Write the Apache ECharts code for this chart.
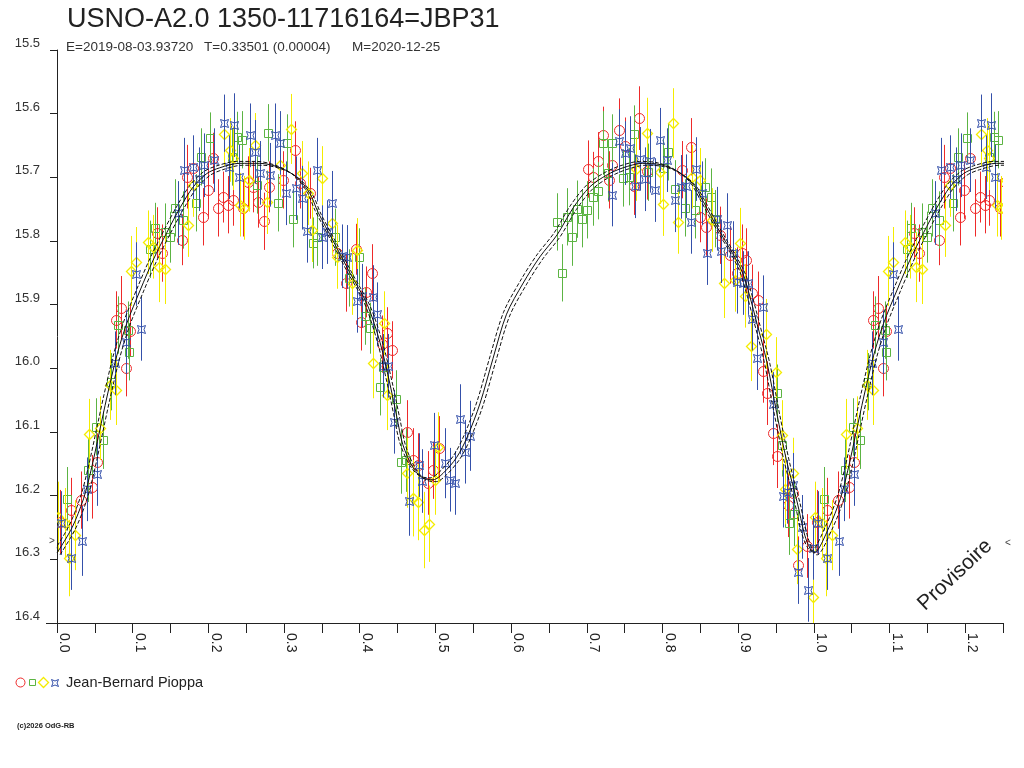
<!DOCTYPE html>
<html>
<head>
<meta charset="utf-8">
<title>JBP31</title>
<script src="https://cdn.jsdelivr.net/npm/echarts/dist/echarts.min.js"></script>
<style>
  html, body { margin: 0; padding: 0; background: #fff; }
  #main { width: 1024px; height: 768px; }
</style>
</head>
<body>
<div id="main"></div>
<script>
// phase, magnitude, error  (one array per observer symbol)
var redObs = [
  [0.004,16.241,0.05],[0.018,16.222,0.05],[0.032,16.207,0.045],[0.046,16.186,0.05],[0.053,16.147,0.045],
  [0.078,15.924,0.045],[0.085,15.905,0.05],[0.091,15.999,0.045],[0.096,15.941,0.04],[0.132,15.787,0.04],
  [0.139,15.819,0.045],[0.165,15.798,0.04],[0.172,15.699,0.05],[0.180,15.685,0.045],[0.193,15.762,0.045],
  [0.199,15.720,0.045],[0.206,15.670,0.04],[0.213,15.748,0.045],[0.219,15.731,0.04],[0.226,15.743,0.045],
  [0.232,15.736,0.04],[0.246,15.748,0.045],[0.252,15.707,0.04],[0.259,15.715,0.04],[0.266,15.739,0.04],
  [0.273,15.769,0.045],[0.280,15.715,0.04],[0.299,15.704,0.045],[0.314,15.657,0.045],[0.321,15.709,0.04],
  [0.334,15.725,0.04],[0.370,15.819,0.04],[0.382,15.866,0.045],[0.395,15.813,0.04],[0.402,15.927,0.045],
  [0.408,15.880,0.04],[0.416,15.850,0.045],[0.429,15.962,0.045],[0.436,15.944,0.04],[0.443,15.971,0.045],
  [0.462,16.100,0.05],[0.470,16.144,0.05],[0.477,16.152,0.05],[0.490,16.180,0.05],[0.497,16.160,0.045],
  [0.505,16.125,0.05],[0.701,15.687,0.045],[0.708,15.700,0.04],[0.715,15.674,0.045],[0.721,15.634,0.045],
  [0.729,15.704,0.045],[0.734,15.681,0.045],[0.742,15.626,0.05],[0.750,15.651,0.045],[0.762,15.714,0.045],
  [0.769,15.607,0.05],[0.779,15.690,0.045],[0.826,15.688,0.045],[0.838,15.652,0.045],[0.849,15.762,0.04],
  [0.857,15.778,0.045],[0.876,15.791,0.045],[0.889,15.822,0.045],[0.898,15.850,0.04],[0.905,15.819,0.045],
  [0.911,15.830,0.05],[0.918,15.882,0.045],[0.926,15.893,0.045],[0.933,16.004,0.05],[0.938,16.039,0.05],
  [0.946,16.102,0.05],[0.951,16.138,0.05],[0.966,16.215,0.05],[0.972,16.196,0.05],[0.979,16.309,0.045],
  [0.991,16.279,0.05]
];
var greenObs = [
  [0.013,16.205,0.05],[0.041,16.160,0.05],[0.052,16.092,0.045],[0.061,16.113,0.045],[0.071,16.021,0.045],
  [0.081,15.932,0.045],[0.094,15.940,0.045],[0.095,15.974,0.045],[0.123,15.813,0.045],[0.129,15.780,0.04],
  [0.143,15.786,0.045],[0.149,15.794,0.04],[0.156,15.748,0.045],[0.166,15.767,0.045],[0.184,15.740,0.045],
  [0.190,15.668,0.045],[0.202,15.638,0.04],[0.231,15.668,0.045],[0.238,15.637,0.04],[0.244,15.641,0.045],
  [0.264,15.712,0.045],[0.279,15.630,0.045],[0.292,15.740,0.045],[0.304,15.646,0.045],[0.312,15.765,0.045],
  [0.338,15.803,0.04],[0.343,15.794,0.045],[0.367,15.794,0.045],[0.386,15.858,0.045],[0.399,15.825,0.045],
  [0.407,15.918,0.045],[0.413,15.937,0.04],[0.427,16.029,0.045],[0.431,15.998,0.045],[0.448,16.048,0.045],
  [0.454,16.147,0.05],[0.461,16.144,0.05],[0.661,15.770,0.045],[0.667,15.850,0.045],[0.674,15.762,0.045],
  [0.680,15.794,0.045],[0.687,15.750,0.045],[0.694,15.765,0.045],[0.700,15.751,0.045],[0.708,15.731,0.045],
  [0.715,15.721,0.045],[0.721,15.646,0.05],[0.728,15.693,0.045],[0.734,15.646,0.045],[0.748,15.701,0.045],
  [0.756,15.699,0.045],[0.762,15.632,0.045],[0.781,15.692,0.045],[0.801,15.685,0.045],[0.808,15.660,0.045],
  [0.816,15.718,0.045],[0.830,15.748,0.045],[0.843,15.751,0.045],[0.856,15.715,0.045],[0.864,15.731,0.045],
  [0.869,15.765,0.045],[0.951,16.039,0.045],[0.958,16.120,0.05],[0.967,16.243,0.05],[0.974,16.229,0.05]
];
var yellowObs = [
  [0.001,16.233,0.055],[0.011,16.243,0.055],[0.016,16.298,0.06],[0.024,16.262,0.055],[0.042,16.103,0.055],
  [0.057,16.094,0.05],[0.070,16.026,0.055],[0.078,16.034,0.055],[0.098,15.847,0.055],[0.104,15.833,0.055],
  [0.120,15.802,0.05],[0.127,15.809,0.05],[0.135,15.841,0.055],[0.143,15.844,0.055],[0.173,15.775,0.05],
  [0.180,15.712,0.05],[0.221,15.632,0.05],[0.229,15.657,0.05],[0.232,15.670,0.05],[0.242,15.743,0.05],
  [0.247,15.748,0.05],[0.254,15.704,0.05],[0.262,15.649,0.05],[0.277,15.739,0.05],[0.295,15.681,0.05],
  [0.309,15.624,0.055],[0.324,15.693,0.05],[0.332,15.725,0.05],[0.337,15.783,0.05],[0.350,15.701,0.05],
  [0.363,15.772,0.05],[0.370,15.825,0.05],[0.390,15.866,0.05],[0.396,15.814,0.05],[0.417,15.992,0.055],
  [0.432,15.929,0.05],[0.436,16.042,0.055],[0.462,16.164,0.055],[0.470,16.204,0.06],[0.477,16.210,0.06],
  [0.485,16.254,0.06],[0.491,16.244,0.06],[0.499,16.175,0.055],[0.503,16.124,0.055],[0.765,15.687,0.05],
  [0.779,15.630,0.055],[0.797,15.692,0.05],[0.801,15.742,0.05],[0.814,15.615,0.055],[0.820,15.770,0.05],
  [0.839,15.699,0.05],[0.849,15.704,0.05],[0.865,15.767,0.05],[0.881,15.866,0.055],[0.896,15.861,0.05],
  [0.902,15.803,0.055],[0.909,15.886,0.05],[0.917,15.965,0.055],[0.937,15.946,0.055],[0.950,16.006,0.055],
  [0.958,16.105,0.055],[0.962,16.190,0.055],[0.972,16.164,0.055],[0.978,16.284,0.055],[0.999,16.359,0.06]
];
var blueObs = [
  [0.005,16.243,0.05],[0.018,16.298,0.05],[0.033,16.271,0.055],[0.040,16.190,0.05],[0.053,16.166,0.05],
  [0.077,15.992,0.05],[0.091,15.959,0.05],[0.104,15.852,0.05],[0.111,15.938,0.05],[0.160,15.756,0.05],
  [0.168,15.688,0.05],[0.180,15.684,0.05],[0.188,15.703,0.05],[0.194,15.681,0.05],[0.207,15.673,0.05],
  [0.221,15.615,0.045],[0.227,15.684,0.05],[0.234,15.618,0.05],[0.240,15.699,0.05],[0.255,15.634,0.05],
  [0.262,15.660,0.05],[0.268,15.693,0.05],[0.281,15.696,0.05],[0.288,15.634,0.05],[0.295,15.646,0.05],
  [0.303,15.725,0.05],[0.316,15.717,0.05],[0.324,15.732,0.05],[0.330,15.784,0.05],[0.343,15.688,0.05],
  [0.350,15.794,0.05],[0.357,15.786,0.05],[0.363,15.740,0.05],[0.376,15.824,0.05],[0.383,15.825,0.05],
  [0.396,15.894,0.05],[0.403,15.886,0.05],[0.417,15.888,0.05],[0.423,15.915,0.05],[0.431,15.996,0.05],
  [0.437,15.996,0.05],[0.445,16.084,0.05],[0.465,16.208,0.055],[0.478,16.152,0.05],[0.482,16.177,0.05],
  [0.498,16.120,0.05],[0.513,16.149,0.055],[0.519,16.175,0.05],[0.526,16.180,0.05],[0.532,16.080,0.055],
  [0.539,16.131,0.05],[0.546,16.106,0.055],[0.734,15.727,0.05],[0.742,15.643,0.05],[0.750,15.662,0.05],
  [0.757,15.654,0.05],[0.764,15.714,0.05],[0.770,15.671,0.05],[0.777,15.703,0.05],[0.783,15.674,0.05],
  [0.790,15.720,0.05],[0.797,15.641,0.05],[0.806,15.673,0.05],[0.816,15.736,0.05],[0.824,15.715,0.05],
  [0.831,15.714,0.05],[0.838,15.770,0.05],[0.844,15.687,0.05],[0.852,15.725,0.05],[0.859,15.819,0.05],
  [0.872,15.765,0.05],[0.878,15.816,0.05],[0.885,15.775,0.05],[0.893,15.819,0.05],[0.898,15.864,0.05],
  [0.906,15.866,0.05],[0.913,15.866,0.05],[0.919,15.922,0.05],[0.925,15.984,0.05],[0.933,15.904,0.05],
  [0.946,16.056,0.05],[0.959,16.200,0.05],[0.964,16.194,0.05],[0.972,16.183,0.05],[0.979,16.320,0.05],
  [0.985,16.249,0.05],[0.992,16.348,0.05],[0.999,16.282,0.05]
];

// fitted light curve (solid) and its two envelopes (dashed)
var modelMid = [
  [0.000,16.290],[0.020,16.250],[0.035,16.205],[0.045,16.160],[0.056,16.100],[0.066,16.045],[0.079,15.980],
  [0.092,15.930],[0.110,15.877],[0.127,15.830],[0.145,15.787],[0.163,15.747],[0.180,15.715],[0.198,15.694],
  [0.215,15.685],[0.241,15.678],[0.268,15.678],[0.295,15.685],[0.317,15.700],[0.334,15.725],[0.345,15.755],
  [0.365,15.800],[0.387,15.850],[0.410,15.900],[0.427,15.960],[0.440,16.025],[0.449,16.076],[0.457,16.120],
  [0.470,16.155],[0.483,16.172],[0.497,16.175],[0.510,16.165],[0.528,16.140],[0.542,16.108],[0.559,16.055],
  [0.576,15.985],[0.594,15.915],[0.616,15.866],[0.638,15.825],[0.661,15.790],[0.682,15.748],[0.704,15.715],
  [0.727,15.696],[0.748,15.685],[0.774,15.678],[0.797,15.680],[0.819,15.690],[0.840,15.710],[0.853,15.736],
  [0.867,15.767],[0.880,15.794],[0.893,15.820],[0.906,15.850],[0.915,15.885],[0.925,15.930],[0.938,15.990],
  [0.951,16.070],[0.964,16.145],[0.978,16.210],[0.988,16.262],[0.995,16.283],[1.000,16.290]
];
var modelEarly = [
  [-0.004,16.287],[0.016,16.247],[0.031,16.202],[0.041,16.157],[0.052,16.097],[0.062,16.042],[0.075,15.977],
  [0.088,15.927],[0.106,15.874],[0.123,15.827],[0.141,15.784],[0.159,15.744],[0.176,15.712],[0.194,15.691],
  [0.211,15.682],[0.237,15.675],[0.264,15.675],[0.291,15.682],[0.313,15.697],[0.330,15.722],[0.341,15.752],
  [0.361,15.797],[0.383,15.847],[0.406,15.897],[0.423,15.957],[0.436,16.022],[0.445,16.073],[0.453,16.117],
  [0.466,16.152],[0.479,16.169],[0.493,16.172],[0.506,16.162],[0.524,16.137],[0.538,16.105],[0.555,16.052],
  [0.572,15.982],[0.590,15.912],[0.612,15.863],[0.634,15.822],[0.657,15.787],[0.678,15.745],[0.700,15.712],
  [0.723,15.693],[0.744,15.682],[0.770,15.675],[0.793,15.677],[0.815,15.687],[0.836,15.707],[0.849,15.733],
  [0.863,15.764],[0.876,15.791],[0.889,15.817],[0.902,15.847],[0.911,15.882],[0.921,15.927],[0.934,15.987],
  [0.947,16.067],[0.960,16.142],[0.974,16.207],[0.984,16.259],[0.991,16.280],[0.996,16.287]
];
var modelLate = [
  [0.004,16.293],[0.024,16.253],[0.039,16.208],[0.049,16.163],[0.060,16.103],[0.070,16.048],[0.083,15.983],
  [0.096,15.933],[0.114,15.880],[0.131,15.833],[0.149,15.790],[0.167,15.750],[0.184,15.718],[0.202,15.697],
  [0.219,15.688],[0.245,15.681],[0.272,15.681],[0.299,15.688],[0.321,15.703],[0.338,15.728],[0.349,15.758],
  [0.369,15.803],[0.391,15.853],[0.414,15.903],[0.431,15.963],[0.444,16.028],[0.453,16.079],[0.461,16.123],
  [0.474,16.158],[0.487,16.175],[0.501,16.178],[0.514,16.168],[0.532,16.143],[0.546,16.111],[0.563,16.058],
  [0.580,15.988],[0.598,15.918],[0.620,15.869],[0.642,15.828],[0.665,15.793],[0.686,15.751],[0.708,15.718],
  [0.731,15.699],[0.752,15.688],[0.778,15.681],[0.801,15.683],[0.823,15.693],[0.844,15.713],[0.857,15.739],
  [0.871,15.770],[0.884,15.797],[0.897,15.823],[0.910,15.853],[0.919,15.888],[0.929,15.933],[0.942,15.993],
  [0.955,16.073],[0.968,16.148],[0.982,16.213],[0.992,16.265],[0.999,16.286],[1.004,16.293]
];

var titleText = 'USNO-A2.0 1350-11716164=JBP31';
var infoTexts = ['E=2019-08-03.93720', 'T=0.33501 (0.00004)', 'M=2020-12-25'];
var observer = 'Jean-Bernard Pioppa';

var RED = '#ee2a2a', GREEN = '#5cb443', YELLOW = '#f4ec00', BLUE = '#3450aa';

// the plot repeats phases 0..0.25 after phase 1
function fold(arr) {
  var extra = [];
  arr.forEach(function (p) {
    if (p[0] >= 0 && p[0] < 0.3) extra.push([p[0] + 1].concat(p.slice(1)));
  });
  return arr.concat(extra);
}

function markerEl(kind, x, y, color) {
  var st = { fill: 'none', stroke: color, lineWidth: 1 };
  if (kind === 'circle') return { type: 'circle', shape: { cx: x, cy: y, r: 5 }, style: st };
  if (kind === 'rect') return { type: 'rect', shape: { x: x - 4, y: y - 4, width: 8, height: 8 }, style: st };
  if (kind === 'diamond') {
    return { type: 'polygon', shape: { points: [[x, y - 5], [x + 5, y], [x, y + 5], [x - 5, y]] },
      style: { fill: 'none', stroke: color, lineWidth: 1.3 } };
  }
  // blue "star": square with pinched sides
  return { type: 'polygon', shape: { points: [[x - 4, y - 4], [x, y - 2.5], [x + 4, y - 4], [x + 2.5, y], [x + 4, y + 4], [x, y + 2.5], [x - 4, y + 4], [x - 2.5, y]] }, style: st };
}

function obsSeries(name, arr, kind, color) {
  return {
    name: name,
    type: 'custom',
    clip: true,
    encode: { x: 0, y: 1 },
    data: fold(arr),
    renderItem: function (params, api) {
      var ph = api.value(0), mag = api.value(1), err = api.value(2);
      var c = api.coord([ph, mag]);
      var t = api.coord([ph, mag - err]);
      var b = api.coord([ph, mag + err]);
      var x = Math.round(c[0]) + 0.5;
      return {
        type: 'group',
        children: [
          { type: 'line', shape: { x1: x, y1: t[1], x2: x, y2: b[1] }, style: { stroke: color, lineWidth: 1 } },
          markerEl(kind, x, Math.round(c[1]) + 0.5, color)
        ]
      };
    },
    z: 3
  };
}

function curveSeries(arr, dashed) {
  return {
    type: 'line',
    data: fold(arr),
    showSymbol: false,
    symbol: 'none',
    smooth: 0.3,
    silent: true,
    lineStyle: { color: '#111', width: 1, type: dashed ? [4, 2] : 'solid' },
    z: 5
  };
}

var chart = echarts.init(document.getElementById('main'));

var option = {
  backgroundColor: '#fff',
  animation: false,
  grid: { left: 57, right: 21, top: 50, bottom: 145 },
  xAxis: {
    type: 'value',
    min: 0,
    max: 1.25,
    interval: 0.05,
    axisLine: { show: true, lineStyle: { color: '#222', width: 1 } },
    axisTick: { show: true, length: 10, lineStyle: { color: '#222' } },
    splitLine: { show: false },
    axisLabel: {
      rotate: -90,
      margin: 10,
      verticalAlign: 'bottom',
      color: '#222',
      fontFamily: 'Liberation Sans',
      fontSize: 14,
      formatter: function (v) {
        var k = Math.round(v * 20);
        return k % 2 === 0 ? (k / 20).toFixed(1) : '';
      }
    }
  },
  yAxis: {
    type: 'value',
    inverse: true,
    min: 15.5,
    max: 16.4,
    interval: 0.1,
    offset: 8,
    axisLine: { show: true, lineStyle: { color: '#222', width: 1 } },
    axisTick: { show: true, length: 7, lineStyle: { color: '#222' } },
    splitLine: { show: false },
    axisLabel: {
      margin: 9,
      verticalAlign: 'bottom',
      color: '#333',
      fontFamily: 'Liberation Sans',
      fontSize: 13,
      formatter: function (v) { return v.toFixed(1); }
    }
  },
  graphic: [
    { type: 'text', left: 67, top: 6, style: { text: titleText, font: '27px "Liberation Sans"', fill: '#222' } },
    { type: 'text', x: 66, y: 47, style: { text: infoTexts[0], font: '13.5px "Liberation Sans"', fill: '#333', verticalAlign: 'middle' } },
    { type: 'text', x: 204, y: 47, style: { text: infoTexts[1], font: '13.5px "Liberation Sans"', fill: '#333', verticalAlign: 'middle' } },
    { type: 'text', x: 352, y: 47, style: { text: infoTexts[2], font: '13.5px "Liberation Sans"', fill: '#333', verticalAlign: 'middle' } },
    { type: 'line', shape: { x1: 46, y1: 623.5, x2: 57, y2: 623.5 }, style: { stroke: '#222', lineWidth: 1 } },
    { type: 'text', x: 49, y: 541, style: { text: '>', font: '10px "Liberation Sans"', fill: '#444', verticalAlign: 'middle' } },
    { type: 'text', x: 1005, y: 543, style: { text: '<', font: '10px "Liberation Sans"', fill: '#444', verticalAlign: 'middle' } },
    { type: 'text', x: 955, y: 575, rotation: Math.PI * 0.24,
      style: { text: 'Provisoire', font: '21px "Liberation Sans"', fill: '#222', align: 'center', verticalAlign: 'middle' } },
    { type: 'circle', shape: { cx: 20.5, cy: 682.5, r: 4.5 }, style: { fill: 'none', stroke: RED, lineWidth: 1 } },
    { type: 'rect', shape: { x: 29.5, y: 679.5, width: 6, height: 6 }, style: { fill: 'none', stroke: GREEN, lineWidth: 1 } },
    { type: 'polygon', shape: { points: [[43.5, 677.5], [48.5, 682.5], [43.5, 687.5], [38.5, 682.5]] }, style: { fill: 'none', stroke: YELLOW, lineWidth: 1.3 } },
    { type: 'polygon', shape: { points: [[51.5, 679.5], [55, 681], [58.5, 679.5], [57, 683], [58.5, 686.5], [55, 685], [51.5, 686.5], [53, 683]] }, style: { fill: 'none', stroke: BLUE, lineWidth: 1 } },
    { type: 'text', x: 66, y: 683, style: { text: observer, font: '14.5px "Liberation Sans"', fill: '#222', verticalAlign: 'middle' } },
    { type: 'text', x: 17, y: 726, style: { text: '(c)2026 OdG-RB', font: 'bold 7.5px "Liberation Sans"', fill: '#222', verticalAlign: 'middle' } }
  ],
  series: [
    obsSeries('red', redObs, 'circle', RED),
    obsSeries('green', greenObs, 'rect', GREEN),
    obsSeries('yellow', yellowObs, 'diamond', YELLOW),
    obsSeries('blue', blueObs, 'star', BLUE),
    curveSeries(modelEarly, true),
    curveSeries(modelLate, true),
    curveSeries(modelMid, false)
  ]
};

chart.setOption(option);

window.addEventListener('resize', function () {
  chart.resize();
});
</script>
</body>
</html>
